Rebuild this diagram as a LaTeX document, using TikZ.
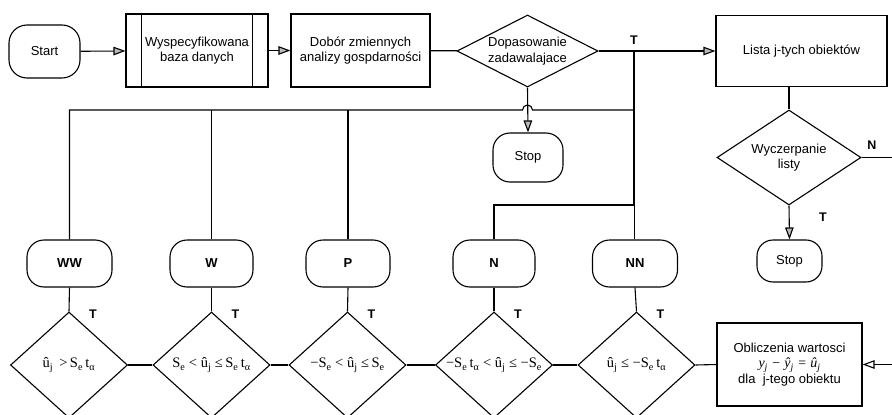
\documentclass[tikz,border=0pt]{standalone}
\usepackage{fontspec}
\setmainfont{Liberation Sans}
\newfontfamily\seriffont{Liberation Serif}
\usetikzlibrary{shapes.geometric,arrows.meta}
\newcommand{\sbs}[1]{\textsubscript{#1}}
\tikzset{
  base/.style={draw, line width=1.1pt, inner sep=0pt, align=center},
  term/.style={base, rectangle, rounded corners=17pt, minimum height=47pt},
  procbox/.style={base, rectangle},
  decis/.style={base, diamond},
  lbl/.style={font=\fontsize{12.5}{14.5}\selectfont\bfseries, inner sep=0pt},
  clsname/.style={font=\fontsize{13}{15}\selectfont\bfseries},
  formula/.style={font=\seriffont\fontsize{14.5}{16}\selectfont, inner sep=0pt},
  conn/.style={line width=1.1pt},
  arr/.style={conn, -{Triangle[length=12pt,width=8.5pt,fill=gray!55]}},
  arrw/.style={conn, -{Triangle[length=12pt,width=8.5pt,fill=white]}},
}
\begin{document}
\begin{tikzpicture}[x=1pt,y=-1pt, every node/.append style={font=\fontsize{13}{15.5}\selectfont, align=center}]
\useasboundingbox (0,0) rectangle (892,415);
\clip (0,0) rectangle (892,415);

% top row
\node[term, minimum width=71pt, minimum height=53pt, rounded corners=18pt] (start) at (44.5,51.5) {Start};
\node[procbox, minimum width=142pt, minimum height=73pt] (db) at (197,50.5) {Wyspecyfikowana\\baza danych};
\draw[line width=1.1pt] ([xshift=16pt]db.north west) -- ([xshift=16pt]db.south west);
\draw[line width=1.1pt] ([xshift=-16pt]db.north east) -- ([xshift=-16pt]db.south east);
\node[procbox, minimum width=139pt, minimum height=73pt] (sel) at (360.5,50.5) {Dobór zmiennych\\analizy gospdarności};
\node[decis, minimum width=141pt, minimum height=72pt] (fit) at (527.5,51) {};
\node (fittxt) at (fit.center) {Dopasowanie\\zadawalajace};
\node[procbox, minimum width=171pt, minimum height=71pt] (lista) at (801.5,51) {Lista j-tych obiektów};

% middle
\node[term, minimum width=70pt, minimum height=49pt] (stop1) at (528,157.5) {Stop};
\node[decis, minimum width=144pt, minimum height=95pt] (wycz) at (789,157.5) {};
\node (wycztxt) at (wycz.center) {Wyczerpanie\\listy};
\node[term, minimum width=65pt, minimum height=42pt, rounded corners=16pt] (stop2) at (789.5,261) {Stop};

% class terminals
\node[term, clsname, minimum width=85pt] (ww) at (69.5,263.5) {WW};
\node[term, clsname, minimum width=83pt] (w) at (211.5,263.5) {W};
\node[term, clsname, minimum width=84pt] (p) at (348,263.5) {P};
\node[term, clsname, minimum width=82pt] (n) at (494,263.5) {N};
\node[term, clsname, minimum width=85pt] (nn) at (635,263.5) {NN};

% bottom diamonds
\node[decis, minimum width=117pt, minimum height=106pt] (d1) at (69,365) {};
\node[decis, minimum width=117pt, minimum height=106pt] (d2) at (211.5,365) {};
\node[decis, minimum width=117pt, minimum height=106pt] (d3) at (347.5,365) {};
\node[decis, minimum width=117pt, minimum height=106pt] (d4) at (494,365) {};
\node[decis, minimum width=117pt, minimum height=106pt] (d5) at (636.5,365) {};
\node[formula] (f1) at (d1.center) {û\sbs{j}\, >\,S\sbs{e}\,t\sbs{α}};
\node[formula] (f2) at (d2.center) {S\sbs{e} < û\sbs{j} ≤\,S\sbs{e}\,t\sbs{α}};
\node[formula] (f3) at (d3.center) {−S\sbs{e} < û\sbs{j} ≤\,S\sbs{e}};
\node[formula] (f4) at (d4.center) {−S\sbs{e}\,t\sbs{α} < û\sbs{j} ≤ −S\sbs{e}};
\node[formula] (f5) at (d5.center) {û\sbs{j} ≤ −S\sbs{e}\,t\sbs{α}};
\node[procbox, minimum width=145pt, minimum height=83pt] (obl) at (789.5,364.5) {Obliczenia wartosci\\{\seriffont\itshape\fontsize{14}{15.5}\selectfont y\sbs{j} − ŷ\sbs{j} = û\sbs{j}}\\dla\ \ j-tego obiektu};

% coordinates
\coordinate (ja) at (634,51);
\coordinate (jb) at (634,110);
\coordinate (jc) at (634,205);
\coordinate (hy) at (0,110);
\coordinate (hop) at (fit.south |- hy);
\coordinate (edgeN) at (892,157.5);
\coordinate (edgeO) at (892,364.5);

% top connectors
\draw[arr] (start) -- (db);
\draw[arr] (db) -- (sel);
\draw[conn] (sel) -- (fit);
\draw[conn] (fit.east) -- (ja);
\draw[arr] (ja) -- (lista.west);
\node[lbl] (tfit) at (634,40) {T};
\draw[arr] (fit.south) -- (stop1.north);

% distribution bus
\draw[conn] (ww.north) -- (ww.north |- hy) -- ([xshift=-5pt]hop) arc[start angle=180,end angle=0,radius=5pt] -- (jb);
\draw[conn] (w.north) -- (w.north |- hy);
\draw[conn] (p.north) -- (p.north |- hy);
\draw[conn] (ja) -- (jb) -- (jc);
\draw[conn] (jc) -| (n.north);
\draw[line width=0.6pt] (jc) -- (jc |- nn.north);

% right column
\draw[conn] (lista.south -| wycz.north) -- (wycz.north);
\draw[conn] (wycz.east) -- (edgeN);
\node[lbl] (nlab) at (872,145) {N};
\draw[arr] (wycz.south) -- (stop2.north);
\node[lbl] (tw) at (823,217) {T};
\draw[arrw] (edgeO) -- (obl.east);

% terminals to diamonds
\foreach \a/\b in {ww/d1, w/d2, p/d3, n/d4, nn/d5}{
  \draw[conn] (\a.south) -- (\b.north);
  \node[lbl] (t\a) at ([xshift=24pt,yshift=-3pt]\b.north) {T};
}
\draw[conn] (d1.east) -- (d2.west);
\draw[conn] (d2.east) -- (d3.west);
\draw[conn] (d3.east) -- (d4.west);
\draw[conn] (d4.east) -- (d5.west);
\draw[conn] (d5.east) -- (obl.west);
\end{tikzpicture}
\end{document}
